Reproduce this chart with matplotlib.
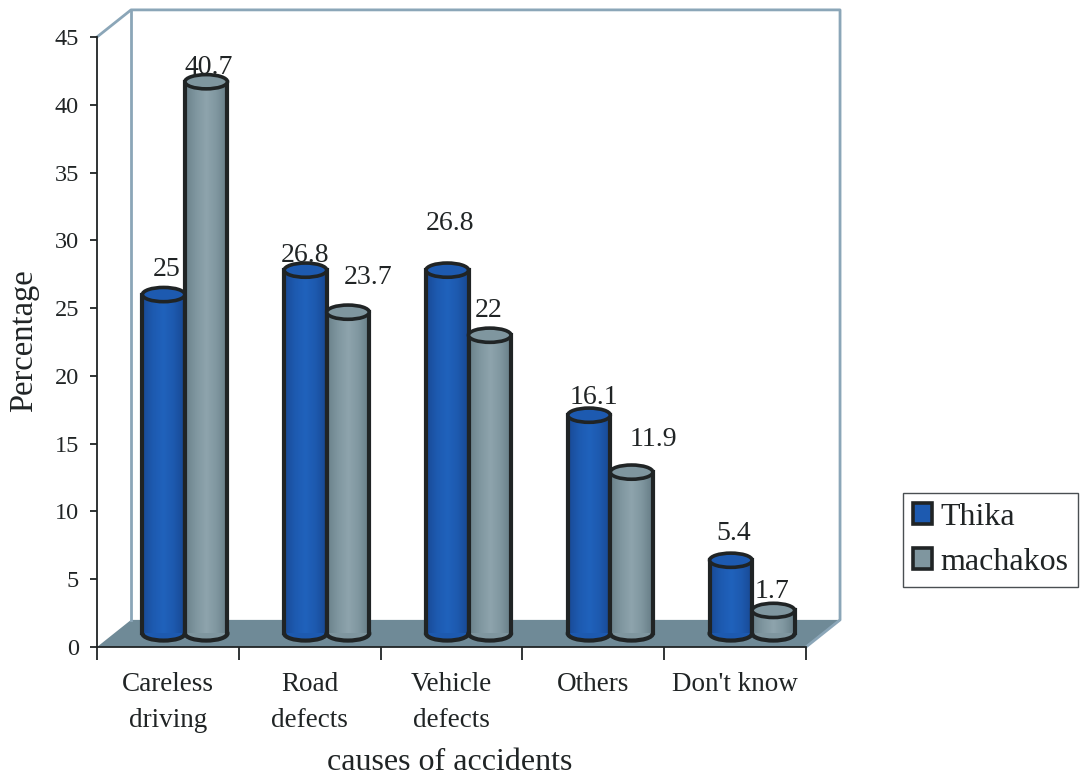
#!/usr/bin/env python
# -*- coding:utf-8 -*-
import numpy as np
import matplotlib
matplotlib.use("Agg")
import matplotlib.pyplot as plt
from matplotlib.colors import LinearSegmentedColormap
from matplotlib.patches import Ellipse, Patch, Polygon

categories = ["Careless\ndriving", "Road\ndefects", "Vehicle\ndefects", "Others", "Don't know"]
thika = [25, 26.8, 26.8, 16.1, 5.4]
machakos = [40.7, 23.7, 22, 11.9, 1.7]
yticks = list(range(0, 50, 5))

# value label nudges, in pixels from the top of each cylinder
thika_nudge = [(3, 25), (0, 15), (3, 47), (5, 18), (3, 27)]
machakos_nudge = [(3, 14), (20, 35), (-1, 25), (22, 33), (-1, 19)]

W, H = 1083, 776
DARK = "#202425"
WALL = "#8ba6b8"
BLUE = ["#194a96", "#1d5ab0", "#2062bc", "#1d59ae", "#184892"]
GREY = ["#6a818b", "#7f969f", "#8ea4ad", "#7f969f", "#667c86"]

# depth of the floor, data units
DX, DY = 0.24, 2.0
BAR_W = 0.3
ELL_H = 1.05

plt.rcParams["font.family"] = ["Liberation Serif", "DejaVu Serif"]

fig = plt.figure(figsize=(W / 100, H / 100), dpi=100)
ax = fig.add_axes([97 / W, 1 - 647 / H, 709 / W, 610 / H])


def cylinder(x, value, shades, z):
    cmap = LinearSegmentedColormap.from_list("body", shades)
    left, right = x - BAR_W / 2, x + BAR_W / 2
    base = DY / 2
    top = base + value
    ax.add_patch(Ellipse((x, base), BAR_W, ELL_H, fc=shades[1], ec=DARK, lw=3,
                         zorder=z, clip_on=False))
    ax.imshow(np.linspace(0, 1, 64)[None, :], cmap=cmap, extent=(left, right, base, top),
              aspect="auto", zorder=z + 0.1, clip_on=False)
    ax.plot([left, left], [base, top], color=DARK, lw=3, zorder=z + 0.2)
    ax.plot([right, right], [base, top], color=DARK, lw=3, zorder=z + 0.2)
    ax.add_patch(Ellipse((x, top), BAR_W, ELL_H, fc=shades[1], ec=DARK, lw=2.6,
                         zorder=z + 0.3, clip_on=False))


def value_label(x, value, nudge):
    ax.annotate(f"{value}", (x, DY / 2 + value), xytext=(nudge[0] * 0.72, nudge[1] * 0.72),
                textcoords="offset points", ha="center", va="center", fontsize=20,
                color=DARK, zorder=10)


# floor and back wall
ax.add_patch(Polygon([(0, 0), (5, 0), (5 + DX, DY), (DX, DY)], fc="#6f8a97", ec="none",
                     zorder=1, clip_on=False))
ax.plot([0, DX, 5 + DX, 5 + DX, 5], [45, 45 + DY, 45 + DY, DY, 0], color=WALL, lw=2,
        zorder=1, clip_on=False)
ax.plot([DX, DX], [DY, 45 + DY], color=WALL, lw=2, zorder=1, clip_on=False)

for i in range(len(categories)):
    centre = i + 0.5 + DX / 2
    cylinder(centre - BAR_W / 2, thika[i], BLUE, 3)
    cylinder(centre + BAR_W / 2, machakos[i], GREY, 4)
    value_label(centre - BAR_W / 2, thika[i], thika_nudge[i])
    value_label(centre + BAR_W / 2, machakos[i], machakos_nudge[i])

ax.set_xlim(0, 5)
ax.set_ylim(0, 45)
ax.set_yticks(yticks)
ax.set_xticks(range(6))
ax.set_xticklabels([])
ax.set_xticks(np.arange(5) + 0.5, categories, minor=True)
ax.tick_params(axis="x", which="major", length=9, width=1.3, color=DARK)
ax.tick_params(axis="x", which="minor", length=0, pad=18, labelsize=19.5, labelcolor=DARK)
ax.tick_params(axis="y", length=5, width=1.3, color=DARK, pad=8, labelsize=17.5, labelcolor=DARK)
for lab in ax.get_xticklabels(minor=True):
    lab.set_linespacing(1.56)
for side in ("top", "right"):
    ax.spines[side].set_visible(False)
for side in ("left", "bottom"):
    ax.spines[side].set_color(DARK)
    ax.spines[side].set_linewidth(1.3)

ax.set_xlabel("causes of accidents", fontsize=23, color=DARK)
ax.xaxis.set_label_coords((450 - 97) / 709, -(763 - 647) / 610)
ax.xaxis.label.set_va("center")
ax.set_ylabel("Percentage", fontsize=23.5, color=DARK)
ax.yaxis.set_label_coords((24 - 97) / 709, (647 - 341) / 610)
ax.yaxis.label.set_va("center")

handles = [Patch(fc=BLUE[1], ec=DARK, lw=2.6), Patch(fc=GREY[1], ec=DARK, lw=2.6)]
leg = fig.legend(handles, ["Thika", "machakos"], loc="center left",
                 bbox_to_anchor=(903 / W, 1 - 540 / H), fontsize=23, frameon=True, fancybox=False,
                 edgecolor="#4a4f52", framealpha=1, handlelength=0.62, handleheight=0.62,
                 handletextpad=0.25, labelspacing=0.5, borderpad=0.3, borderaxespad=0,
                 labelcolor=DARK)
leg.get_frame().set_linewidth(1)

fig.savefig("out.png", dpi=100)
